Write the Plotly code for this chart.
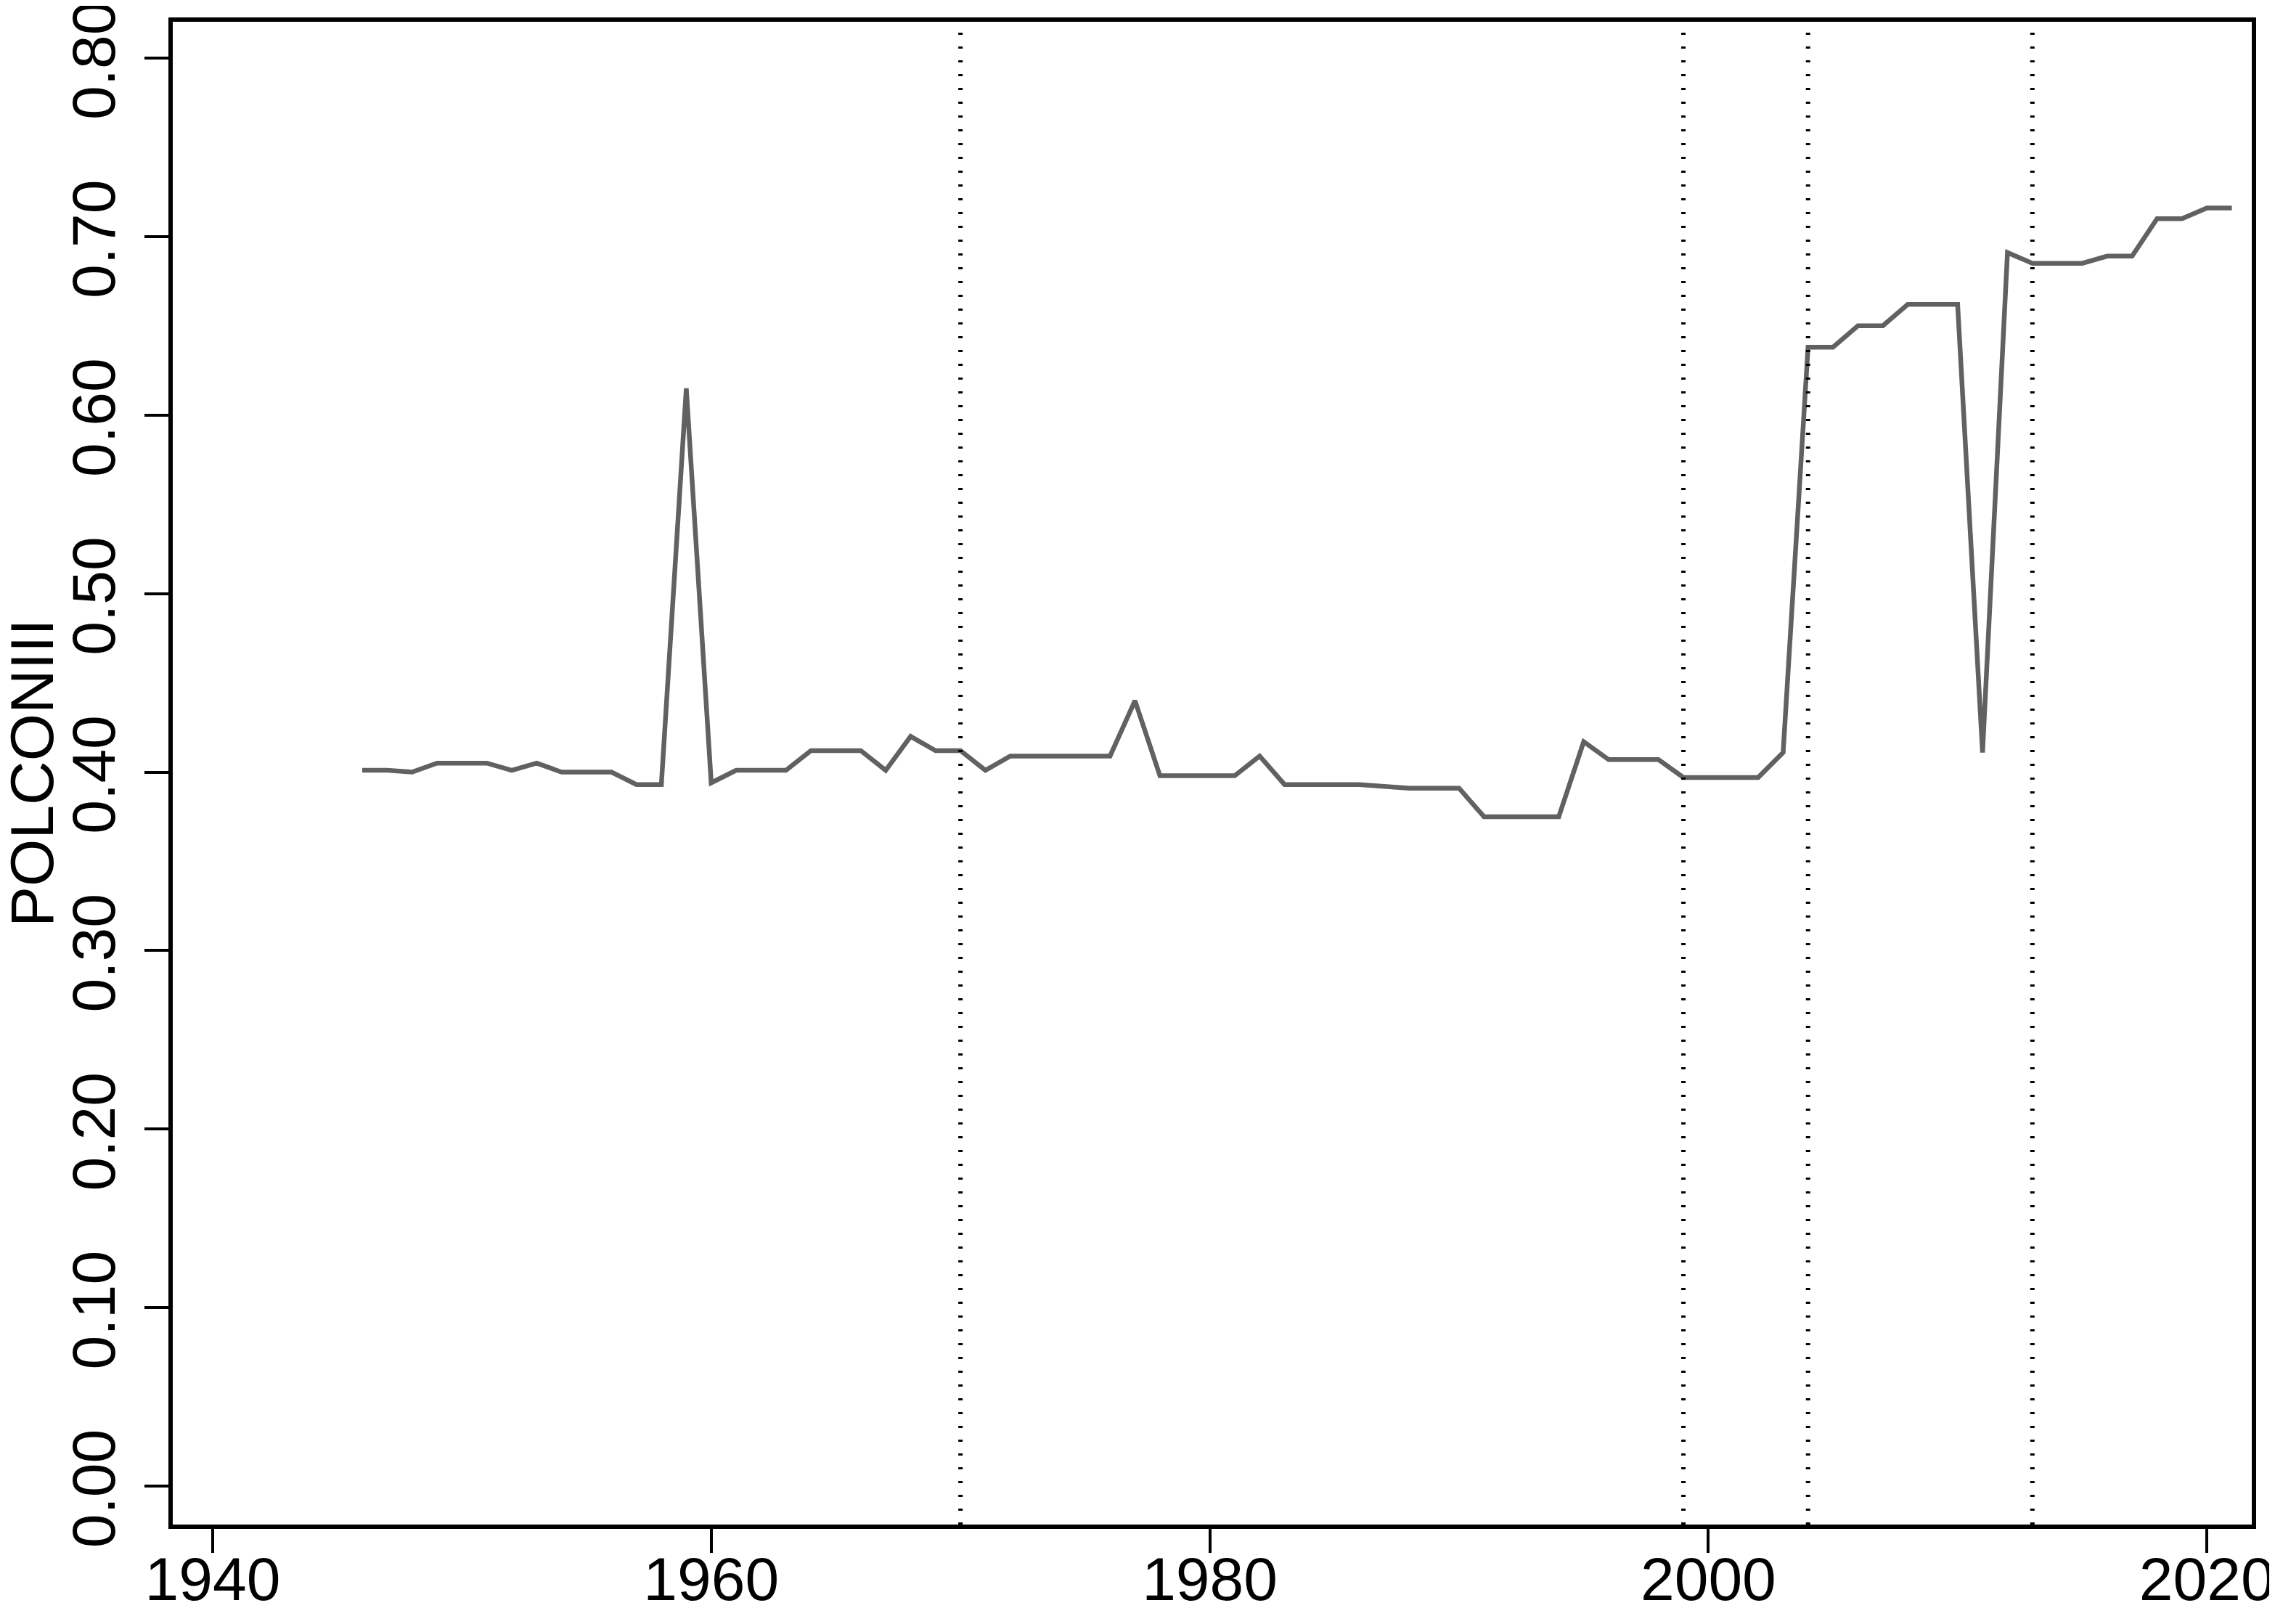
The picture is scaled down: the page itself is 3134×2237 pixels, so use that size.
import plotly.graph_objects as go

# POLCONIII by year
years = list(range(1946, 2022))
polcon = [
    0.401, 0.401, 0.400, 0.405, 0.405, 0.405, 0.401, 0.405, 0.400, 0.400,
    0.400, 0.393, 0.393, 0.615, 0.394, 0.401, 0.401, 0.401, 0.412, 0.412,
    0.412, 0.401, 0.420, 0.412, 0.412, 0.401, 0.409, 0.409, 0.409, 0.409,
    0.409, 0.440, 0.398, 0.398, 0.398, 0.398, 0.409, 0.393, 0.393, 0.393,
    0.393, 0.392, 0.391, 0.391, 0.391, 0.375, 0.375, 0.375, 0.375, 0.417,
    0.407, 0.407, 0.407, 0.397, 0.397, 0.397, 0.397, 0.411, 0.638, 0.638,
    0.650, 0.650, 0.662, 0.662, 0.662, 0.411, 0.691, 0.685, 0.685, 0.685,
    0.689, 0.689, 0.710, 0.710, 0.716, 0.716,
]
break_years = [1970, 1999, 2004, 2013]
x_ticks = [1940, 1960, 1980, 2000, 2020]
y_ticks = [0.0, 0.1, 0.2, 0.3, 0.4, 0.5, 0.6, 0.7, 0.8]

FONT = "Liberation Sans, Arial, sans-serif"

fig = go.Figure()
fig.add_trace(
    go.Scatter(
        x=years,
        y=polcon,
        mode="lines",
        line=dict(color="#616161", width=6.5),
        showlegend=False,
    )
)

for yr in break_years:
    fig.add_shape(
        type="line",
        xref="x",
        yref="paper",
        x0=yr,
        x1=yr,
        y0=0,
        y1=1,
        line=dict(color="black", width=6, dash="3px,16px"),
    )

# y title placed by hand (like R's mtext)
fig.add_annotation(
    text="POLCONIII",
    xref="paper",
    yref="paper",
    x=-0.0677,
    y=0.5,
    xanchor="center",
    yanchor="middle",
    textangle=-90,
    showarrow=False,
    font=dict(size=84),
)

# page body adds 8px, so the figure is a little smaller than the window
fig.update_layout(
    width=3118,
    height=2221,
    margin=dict(l=230, r=24, t=22, b=129),
    paper_bgcolor="white",
    plot_bgcolor="white",
    font=dict(family=FONT, size=84, color="black"),
    xaxis=dict(
        range=[1938.4, 2021.8],
        tickvals=x_ticks,
        ticktext=[str(v) for v in x_ticks],
        ticks="outside",
        ticklen=33,
        tickwidth=4,
        tickcolor="black",
        showline=True,
        linecolor="black",
        linewidth=6,
        mirror=True,
        showgrid=False,
        zeroline=False,
        automargin=False,
        ticklabeloverflow="allow",
        ticklabelstandoff=-36,
    ),
    yaxis=dict(
        range=[-0.0215, 0.8203],
        tickvals=y_ticks,
        ticktext=[f"{v:.2f}" for v in y_ticks],
        tickangle=-90,
        ticks="outside",
        ticklen=33,
        tickwidth=4,
        tickcolor="black",
        showline=True,
        linecolor="black",
        linewidth=6,
        mirror=True,
        showgrid=False,
        zeroline=False,
        automargin=False,
        ticklabeloverflow="allow",
        ticklabelstandoff=7,
        ticklabelshift=16,
    ),
)

fig.write_html("out.html")
